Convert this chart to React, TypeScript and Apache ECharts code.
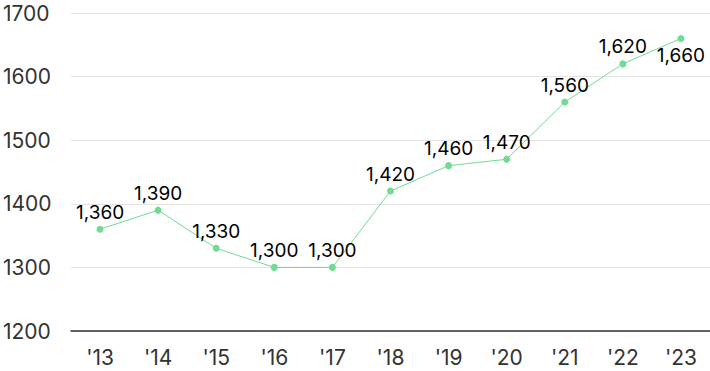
import React, { useEffect, useRef } from "react";
import * as echarts from "echarts";

const categories = ["'13", "'14", "'15", "'16", "'17", "'18", "'19", "'20", "'21", "'22", "'23"];
const values = [1360, 1390, 1330, 1300, 1300, 1420, 1460, 1470, 1560, 1620, 1660];
const labelBelow = [false, false, false, false, false, false, false, false, false, false, true];

export default function App() {
  const ref = useRef<HTMLDivElement>(null);
  useEffect(() => {
    const chart = echarts.init(ref.current!, undefined, { renderer: "svg" });
    chart.setOption({
      animation: false,
      grid: { left: 68, right: 0, top: 8, bottom: 40, containLabel: false },
      xAxis: {
        type: "category",
        data: categories,
        boundaryGap: true,
        axisLine: { show: true, lineStyle: { color: "#333", width: 1.5 } },
        axisTick: { show: false },
        axisLabel: { color: "#333", fontSize: 21, fontFamily: "Inter", margin: 16 },
      },
      yAxis: {
        type: "value",
        min: 1200,
        max: 1700,
        interval: 100,
        axisLine: { show: false },
        axisTick: { show: false },
        splitLine: { lineStyle: { color: "#e3e3e3", width: 1 } },
        axisLabel: {
          color: "#333",
          fontSize: 21,
          lineHeight: 20,
          fontFamily: "Inter",
          align: "left",
          margin: 68,
          padding: [6, 0, 0, 0],
          formatter: (v: number) => String(v),
        },
      },
      series: [
        {
          type: "line",
          data: values.map((v, i) => ({
            value: v,
            label: { position: labelBelow[i] ? "bottom" : "top" },
          })),
          lineStyle: { color: "#6fdc92", width: 1 },
          itemStyle: { color: "#6fdc92" },
          symbol: "circle",
          symbolSize: 7,
          label: {
            show: true,
            color: "#000",
            fontSize: 19,
            fontFamily: "Inter",
            distance: 4,
            formatter: (p: any) => p.value.toLocaleString("en-US"),
          },
        },
      ],
    });
    return () => chart.dispose();
  }, []);
  return <div ref={ref} style={{ width: 710, height: 371, position: "absolute", left: 0, top: 0 }} />;
}
